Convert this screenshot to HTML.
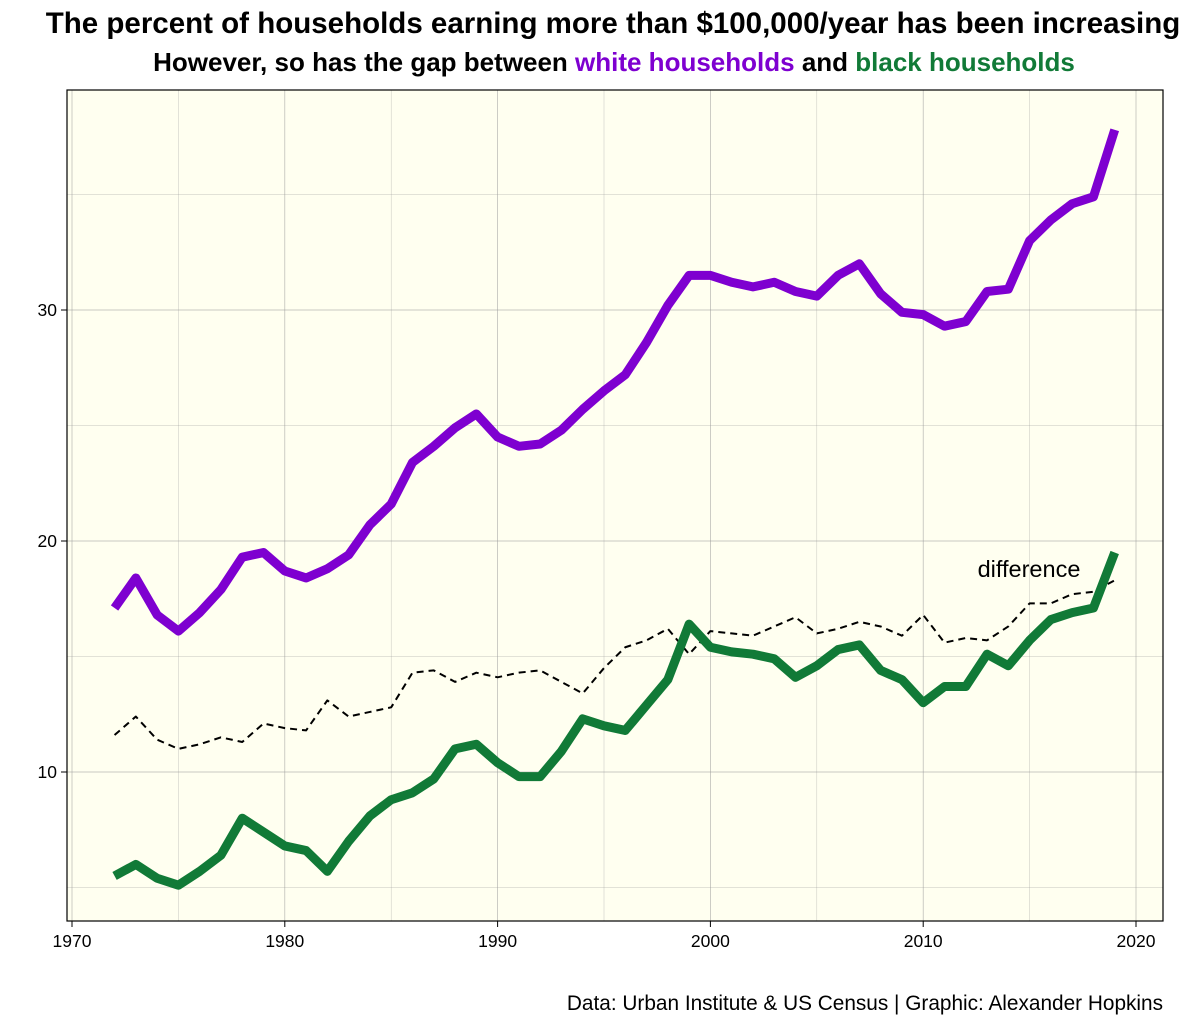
<!DOCTYPE html>
<html><head><meta charset="utf-8"><style>
body{margin:0;background:#fff;font-family:"Liberation Sans",Arial,sans-serif}
svg text{font-family:"Liberation Sans",Arial,sans-serif}
</style></head><body>
<svg id="c" width="1200" height="1029" xmlns="http://www.w3.org/2000/svg">
<text x="613" y="33" text-anchor="middle" font-size="29.5" font-weight="bold">The percent of households earning more than $100,000/year has been increasing</text>
<text x="614" y="71" text-anchor="middle" font-size="26" font-weight="bold">However, so has the gap between <tspan fill="#7e00d0">white households</tspan> and <tspan fill="#117a37">black households</tspan></text>
<text x="1163" y="1010" text-anchor="end" font-size="20.8">Data: Urban Institute &amp; US Census | Graphic: Alexander Hopkins</text>
<g id="plot"></g>
</svg>
<script>
const years=[];for(let y=1972;y<=2019;y++)years.push(y);
const white=[17.1,18.4,16.8,16.1,16.9,17.9,19.3,19.5,18.7,18.4,18.8,19.4,20.7,21.6,23.4,24.1,24.9,25.5,24.5,24.1,24.2,24.8,25.7,26.5,27.2,28.6,30.2,31.5,31.5,31.2,31.0,31.2,30.8,30.6,31.5,32.0,30.7,29.9,29.8,29.3,29.5,30.8,30.9,33.0,33.9,34.6,34.9,37.8];
const black=[5.5,6.0,5.4,5.1,5.7,6.4,8.0,7.4,6.8,6.6,5.7,7.0,8.1,8.8,9.1,9.7,11.0,11.2,10.4,9.8,9.8,10.9,12.3,12.0,11.8,12.9,14.0,16.4,15.4,15.2,15.1,14.9,14.1,14.6,15.3,15.5,14.4,14.0,13.0,13.7,13.7,15.1,14.6,15.7,16.6,16.9,17.1,19.5];
const xTicks=[1970,1980,1990,2000,2010,2020];
const yTicks=[10,20,30];
const L=67,R=1163,T=90,B=921;
const x=v=>72+(v-1970)*(1136-72)/50;
const y=v=>310-(v-30)*23.1;
const g=document.getElementById('plot');const NS='http://www.w3.org/2000/svg';
function el(t,a){const e=document.createElementNS(NS,t);for(const k in a)e.setAttribute(k,a[k]);g.appendChild(e);return e;}
const bg=el('rect',{x:L,y:T,width:R-L,height:B-T,fill:'#fffff0'});


for(let v=5;v<=35;v+=5){const ln=el('line',{x1:L,x2:R,y1:y(v),y2:y(v),stroke:'#999',"stroke-width":v%10?0.4:0.7,"stroke-opacity":0.7});

}
for(let v=1970;v<=2020;v+=5){const ln=el('line',{y1:T,y2:B,x1:x(v),x2:x(v),stroke:'#999',"stroke-width":v%10?0.4:0.7,"stroke-opacity":0.7});

}
const diff=white.map((w,i)=>+(w-black[i]).toFixed(2));
function line(arr,color,w,name,dash){const d=arr.map((v,i)=>(i?'L':'M')+x(years[i])+','+y(v)).join('');
const p=el('path',{d:d,fill:'none',stroke:color,"stroke-width":w,"stroke-linejoin":'round'});if(dash)p.setAttribute('stroke-dasharray',dash);

}
line(diff,'#000',2,'difference-line','7,5');
line(white,'#7e00d0',9,'white-households-line');
line(black,'#117a37',9,'black-households-line');
const lab=el('text',{x:1029,y:577,"text-anchor":'middle',"font-size":23.5});lab.textContent='difference';


const fr=el('rect',{x:L,y:T,width:R-L,height:B-T,fill:'none',stroke:'#000',"stroke-width":1.2});


xTicks.forEach(v=>{el('line',{x1:x(v),x2:x(v),y1:B,y2:B+6,stroke:'#000'});
const t=el('text',{x:x(v),y:B+26,"text-anchor":'middle',"font-size":17.5});t.textContent=v;

});
yTicks.forEach(v=>{el('line',{x1:L-6,x2:L,y1:y(v),y2:y(v),stroke:'#000'});
const t=el('text',{x:L-10,y:y(v)+6,"text-anchor":'end',"font-size":17.5});t.textContent=v;

});
</script>
</body></html>
